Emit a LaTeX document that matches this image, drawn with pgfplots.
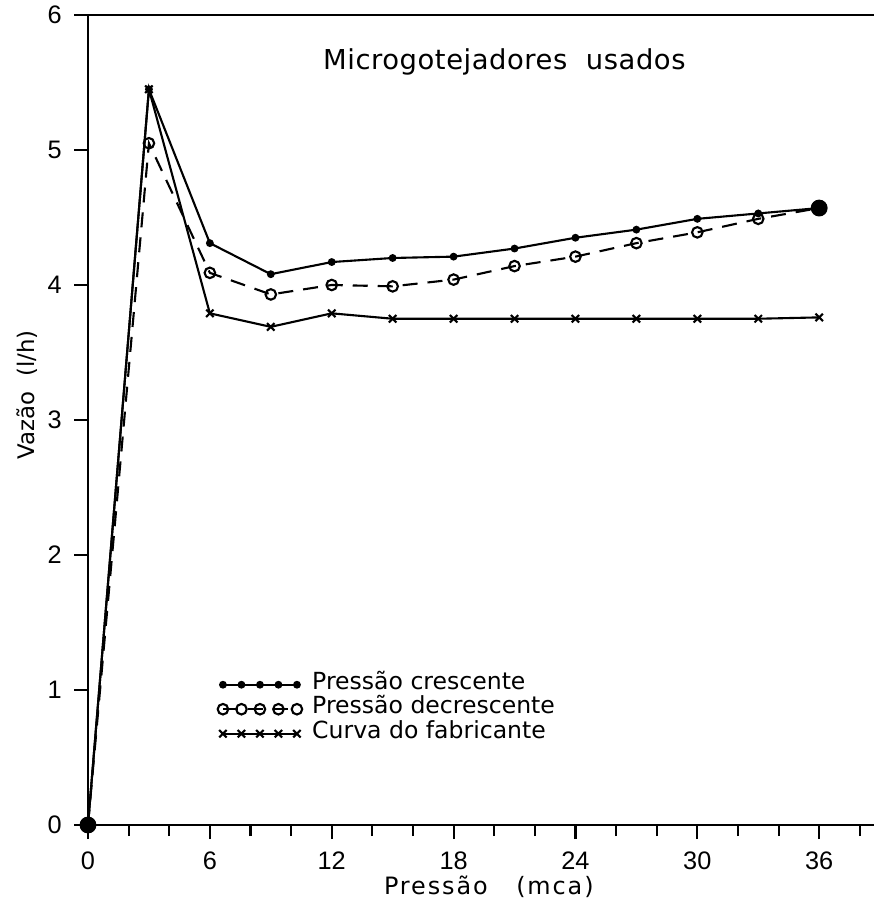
\documentclass[border=0pt]{standalone}
\usepackage{fontspec}
\setmainfont{Liberation Sans}
\newfontfamily\titlefont[LetterSpace=2]{DejaVu Sans}
\newfontfamily\labfont[LetterSpace=8]{DejaVu Sans}
\newfontfamily\legfont{DejaVu Sans}
\usepackage{pgfplots}
\pgfplotsset{compat=1.18}
\begin{document}
\begin{tikzpicture}
\begin{axis}[
  scale only axis, width=78.6mm, height=81mm,
  xmin=0, xmax=38.7, ymin=0, ymax=6,
  axis x line*=bottom, axis y line*=left,
  axis line style={-, line width=0.6pt},
  xtick={0,6,...,36},
  minor xtick={2,4,8,10,14,16,20,22,26,28,32,34,38},
  ytick={0,1,...,6},
  tick align=outside, major tick length=1.4mm, minor tick length=1.1mm,
  tick style={line width=0.6pt, black},
  /pgf/number format/assume math mode=true,
  ticklabel style={font=\fontsize{7.2}{9}\selectfont},
  xlabel={Pressão\ \ \ (mca)}, ylabel={Vazão\ \ (l/h)},
  xlabel style={font=\labfont\fontsize{6.8}{8}\selectfont, at={(axis description cs:0.51,0)}, anchor=center, yshift=-6.2mm},
  ylabel style={font=\legfont\fontsize{6.5}{8}\selectfont, at={(axis description cs:-0.077,0.531)}, anchor=center},
  clip=false,
  legend cell align=left,
  legend style={draw=none, fill=none, at={(axis cs:6.35,1.135)}, anchor=north west,
    inner xsep=0pt, inner ysep=0pt,
    font=\legfont\fontsize{6.7}{8}\selectfont, column sep=1mm, row sep=0pt,
    nodes={inner sep=0pt, text height=1.7mm, text depth=0.75mm}},
  legend image code/.code={\draw[mark repeat=1, #1] plot coordinates {(0mm,0mm) (1.85mm,0mm) (3.7mm,0mm) (5.55mm,0mm) (7.4mm,0mm)};},
]
\coordinate (sw) at (rel axis cs:0,0);
\coordinate (ne) at (rel axis cs:1,1);
\draw[line width=0.6pt] (rel axis cs:0,1) -- (rel axis cs:1,1);
\addplot[black, line width=0.6pt, mark=*, mark size=0.8pt] coordinates {
(0,0) (3,5.45) (6,4.31) (9,4.08) (12,4.17) (15,4.20) (18,4.21) (21,4.27) (24,4.35) (27,4.41) (30,4.49) (33,4.53) (36,4.57)};
\addlegendentry{Pressão\ crescente}
\addplot[black, line width=0.6pt, dash pattern=on 1.5mm off 1mm, mark=o, mark size=1.5pt, mark options={solid}] coordinates {
(0,0) (3,5.05) (6,4.09) (9,3.93) (12,4.0) (15,3.99) (18,4.04) (21,4.14) (24,4.21) (27,4.31) (30,4.39) (33,4.49) (36,4.57)};
\addlegendentry{Pressão\ decrescente}
\addplot[black, line width=0.6pt, mark=x, mark size=1.5pt] coordinates {
(0,0) (3,5.45) (6,3.79) (9,3.69) (12,3.79) (15,3.75) (18,3.75) (21,3.75) (24,3.75) (27,3.75) (30,3.75) (33,3.75) (36,3.76)};
\addlegendentry{Curva\ do\ fabricante}
\addplot[black, only marks, mark=*, mark size=2.2pt, forget plot] coordinates {(0,0) (36,4.57)};
\node[font=\titlefont\fontsize{7.8}{9}\selectfont] at (axis cs:20.5,5.65) {Microgotejadores\ \ usados};
\end{axis}
\pgfresetboundingbox
\path[use as bounding box] ([shift={(-8.8mm,-8.5mm)}]sw) rectangle ([shift={(0mm,1.5mm)}]ne);
\end{tikzpicture}
\end{document}
